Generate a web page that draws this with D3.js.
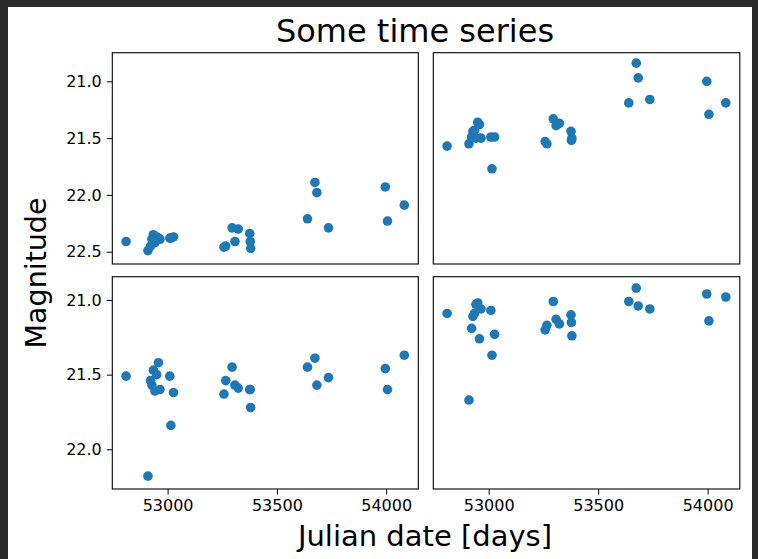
<!DOCTYPE html>
<html>
<head>
<meta charset="utf-8">
<script src="https://cdn.jsdelivr.net/npm/d3@7"></script>
<style>
  html, body { margin: 0; padding: 0; background: #fff; }
  svg { display: block; }
  text { font-family: "DejaVu Sans", sans-serif; fill: #000; }
</style>
</head>
<body>
<script>
// ---- Data ----
const dates = [52810, 52910, 52922, 52928, 52935, 52942, 52950, 52958, 52965,
  53010, 53015, 53027, 53258, 53266, 53295, 53308, 53323, 53376, 53378, 53380,
  53640, 53674, 53683, 53736, 53996, 54006, 54083];
const magTopLeft = [22.41, 22.49, 22.45, 22.39, 22.35, 22.42, 22.37, 22.38, 22.39,
  22.38, 22.38, 22.37, 22.46, 22.45, 22.29, 22.41, 22.30, 22.34, 22.41, 22.47,
  22.21, 21.89, 21.98, 22.29, 21.93, 22.23, 22.09];
const magTopRight = [21.57, 21.55, 21.49, 21.44, 21.43, 21.50, 21.36, 21.38, 21.50,
  21.49, 21.77, 21.49, 21.53, 21.55, 21.33, 21.39, 21.37, 21.44, 21.52, 21.50,
  21.19, 20.84, 20.97, 21.16, 21.00, 21.29, 21.19];
const magBottomLeft = [21.51, 22.18, 21.54, 21.57, 21.47, 21.61, 21.50, 21.42, 21.60,
  21.51, 21.84, 21.62, 21.63, 21.54, 21.45, 21.57, 21.59, 21.60, 21.60, 21.72,
  21.45, 21.39, 21.57, 21.52, 21.46, 21.60, 21.37];
const magBottomRight = [21.09, 21.67, 21.19, 21.11, 21.09, 21.03, 21.02, 21.26, 21.06,
  21.07, 21.37, 21.23, 21.20, 21.17, 21.01, 21.13, 21.16, 21.10, 21.15, 21.24,
  21.01, 20.92, 21.04, 21.06, 20.96, 21.14, 20.98];
const xDomain = [52747, 54147];
const yDomainTop = [20.748, 22.608];
const yDomainBottom = [20.844, 22.266];
const xTicks = [53000, 53500, 54000];
const yTicksTop = [21.0, 21.5, 22.0, 22.5];
const yTicksBottom = [21.0, 21.5, 22.0];
const titleText = "Some time series";
const xLabel = "Julian date [days]";
const yLabel = "Magnitude";

// ---- Layout ----
const W = 758, H = 559;
const colX = [[112.3, 418.3], [433.3, 739.8]];
const rowY = [[52.7, 264], [276.7, 489]];
const color = "#1f77b4";

const svg = d3.select("body").append("svg").attr("width", W).attr("height", H);
svg.append("rect").attr("width", W).attr("height", H).attr("fill", "#fff");

const panels = [
  { r: 0, c: 0, mags: magTopLeft, yDom: yDomainTop, yTicks: yTicksTop },
  { r: 0, c: 1, mags: magTopRight, yDom: yDomainTop, yTicks: yTicksTop },
  { r: 1, c: 0, mags: magBottomLeft, yDom: yDomainBottom, yTicks: yTicksBottom },
  { r: 1, c: 1, mags: magBottomRight, yDom: yDomainBottom, yTicks: yTicksBottom }
];

panels.forEach(p => {
  const x = d3.scaleLinear().domain(xDomain).range(colX[p.c]);
  const y = d3.scaleLinear().domain(p.yDom).range(rowY[p.r]); // inverted magnitude
  const g = svg.append("g");
  const pts = dates.map((d, i) => ({ d, m: p.mags[i] }));
  g.selectAll("circle").data(pts).join("circle")
    .attr("cx", d => x(d.d)).attr("cy", d => y(d.m))
    .attr("r", 4.8).attr("fill", color);

  if (p.c === 0) {
    const ax = g.append("g").attr("transform", `translate(${colX[0][0]},0)`)
      .call(d3.axisLeft(y).tickValues(p.yTicks).tickFormat(d3.format(".1f"))
        .tickSizeOuter(0).tickSize(5.5).tickPadding(5));
    ax.select(".domain").remove();
    ax.selectAll("line").attr("stroke", "#000").attr("stroke-width", 1);
    ax.selectAll("text").style("font-size", "16px").style("font-family", "DejaVu Sans");
  }
  if (p.r === 1) {
    const ax = g.append("g").attr("transform", `translate(0,${rowY[1][1]})`)
      .call(d3.axisBottom(x).tickValues(xTicks).tickFormat(d3.format("d"))
        .tickSizeOuter(0).tickSize(5.5).tickPadding(5));
    ax.select(".domain").remove();
    ax.selectAll("line").attr("stroke", "#000").attr("stroke-width", 1);
    ax.selectAll("text").style("font-size", "16px").style("font-family", "DejaVu Sans");
  }
  g.append("rect")
    .attr("x", colX[p.c][0]).attr("y", rowY[p.r][0])
    .attr("width", colX[p.c][1] - colX[p.c][0]).attr("height", rowY[p.r][1] - rowY[p.r][0])
    .attr("fill", "none").attr("stroke", "#000").attr("stroke-width", 1.1);
});

svg.append("text").attr("x", 415).attr("y", 42).attr("text-anchor", "middle")
  .style("font-size", "32px").text(titleText);
svg.append("text").attr("x", 425).attr("y", 546).attr("text-anchor", "middle")
  .style("font-size", "29px").text(xLabel);
svg.append("text").attr("transform", "translate(46,273) rotate(-90)")
  .attr("text-anchor", "middle").style("font-size", "28.5px").text(yLabel);

// dark screenshot frame
svg.append("rect").attr("x", 0).attr("y", 0).attr("width", W).attr("height", 7).attr("fill", "#2b2b2b");
svg.append("rect").attr("x", 0).attr("y", 0).attr("width", 8).attr("height", H).attr("fill", "#2b2b2b");
svg.append("rect").attr("x", 752).attr("y", 0).attr("width", 6).attr("height", H).attr("fill", "#2b2b2b");
</script>
</body>
</html>
